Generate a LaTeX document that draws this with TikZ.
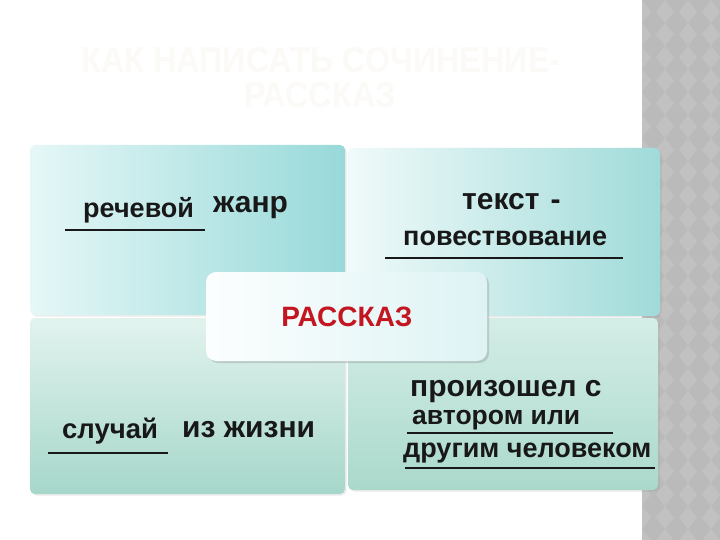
\documentclass[tikz,border=0pt]{standalone}
\usepackage{fontspec}
\setmainfont{Liberation Sans}
\usetikzlibrary{shadows}
\definecolor{titlec}{RGB}{252,250,246}
\definecolor{tlL}{RGB}{230,247,247}
\definecolor{tlR}{RGB}{152,217,217}
\definecolor{trL}{RGB}{240,250,250}
\definecolor{trR}{RGB}{160,219,217}
\definecolor{blL}{RGB}{226,243,238}
\definecolor{blR}{RGB}{166,215,202}
\definecolor{brL}{RGB}{212,237,231}
\definecolor{brR}{RGB}{170,217,203}
\definecolor{redc}{RGB}{196,22,32}
\definecolor{ink}{RGB}{24,24,24}
\definecolor{strip}{RGB}{186,186,186}
\definecolor{stripd}{RGB}{193,193,193}
\definecolor{boxL}{RGB}{252,254,254}
\definecolor{boxR}{RGB}{222,243,244}
\tikzset{
  quad/.style={rounded corners=5pt, drop shadow={shadow xshift=1.5pt, shadow yshift=-1.5pt, opacity=0.15}},
  word/.style={anchor=base west, inner sep=0pt, text=ink, font=\bfseries},
  uline/.style={draw=ink, line width=2.4pt},
  titletext/.style={text=titlec, font=\bfseries\fontsize{36}{36}\selectfont, inner sep=0pt, anchor=base}
}
\begin{document}
\begin{tikzpicture}[x=1pt,y=-1pt]
\useasboundingbox (0,0) rectangle (720,540);
\fill[white] (0,0) rectangle (720,540);
% gray patterned strip
\fill[strip] (642,0) rectangle (720,540);
\begin{scope}
\clip (642,0) rectangle (720,540);
\foreach \i in {0,...,4}{
  \foreach \j in {0,...,24}{
    \fill[stripd] ({642+\i*23},{\j*23}) -- ++(9,11.5) -- ++(-9,11.5) -- ++(-9,-11.5) -- cycle;
  }
}
\end{scope}
% title
\node[titletext] (t1) at (321,73) {\scalebox{0.9}[1]{КАК НАПИСАТЬ СОЧИНЕНИЕ-}};
\node[titletext] (t2) at (320,108) {\scalebox{0.9}[1]{РАССКАЗ}};
% quadrants
\shade[quad, left color=tlL, right color=tlR] (30,145) rectangle (345,315);
\shade[quad, left color=trL, right color=trR] (348,148) rectangle (660,316);
\shade[quad, shading angle=300, top color=blL, bottom color=blR] (30,318) rectangle (345,494);
\shade[quad, shading angle=300, top color=brL, bottom color=brR] (348,318) rectangle (658,490);
% center box
\shade[rounded corners=10pt, left color=boxL, right color=boxR,
  drop shadow={shadow xshift=2pt, shadow yshift=-2pt, opacity=0.3}]
  (206,272) rectangle (487,361);
\node[anchor=base, inner sep=0pt, text=redc, font=\bfseries\fontsize{28}{28}\selectfont] (main) at (347,326) {РАССКАЗ};
% top-left
\node[word, font=\bfseries\fontsize{27}{27}\selectfont] (w1) at (83,218) {речевой};
\node[word, font=\bfseries\fontsize{30}{30}\selectfont] (w2) at (213,213) {жанр};
\coordinate (u1a) at (65,230); \coordinate (u1b) at (205,230);
\draw[uline] (u1a) -- (u1b);
% top-right
\node[word, font=\bfseries\fontsize{30}{30}\selectfont] (w3) at (462,210) {текст\hspace{11pt}-};
\node[word, font=\bfseries\fontsize{27}{27}\selectfont] (w4) at (403,245) {повествование};
\coordinate (u2a) at (385,258); \coordinate (u2b) at (623,258);
\draw[uline] (u2a) -- (u2b);
% bottom-left
\node[word, font=\bfseries\fontsize{27.5}{27.5}\selectfont] (w5) at (62,438) {случай};
\node[word, font=\bfseries\fontsize{30}{30}\selectfont] (w6) at (182,437) {из жизни};
\coordinate (u3a) at (48,453); \coordinate (u3b) at (168,453);
\draw[uline] (u3a) -- (u3b);
% bottom-right
\node[word, font=\bfseries\fontsize{30}{30}\selectfont] (w7) at (410,396) {произошел с};
\node[word, font=\bfseries\fontsize{26.5}{26.5}\selectfont] (w8) at (412,424) {автором или};
\node[word, font=\bfseries\fontsize{27}{27}\selectfont] (w9) at (403,457) {другим человеком};
\coordinate (u4a) at (407,433); \coordinate (u4b) at (613,433);
\draw[uline] (u4a) -- (u4b);
\coordinate (u5a) at (405,468); \coordinate (u5b) at (655,468);
\draw[uline] (u5a) -- (u5b);
\end{tikzpicture}
\end{document}
